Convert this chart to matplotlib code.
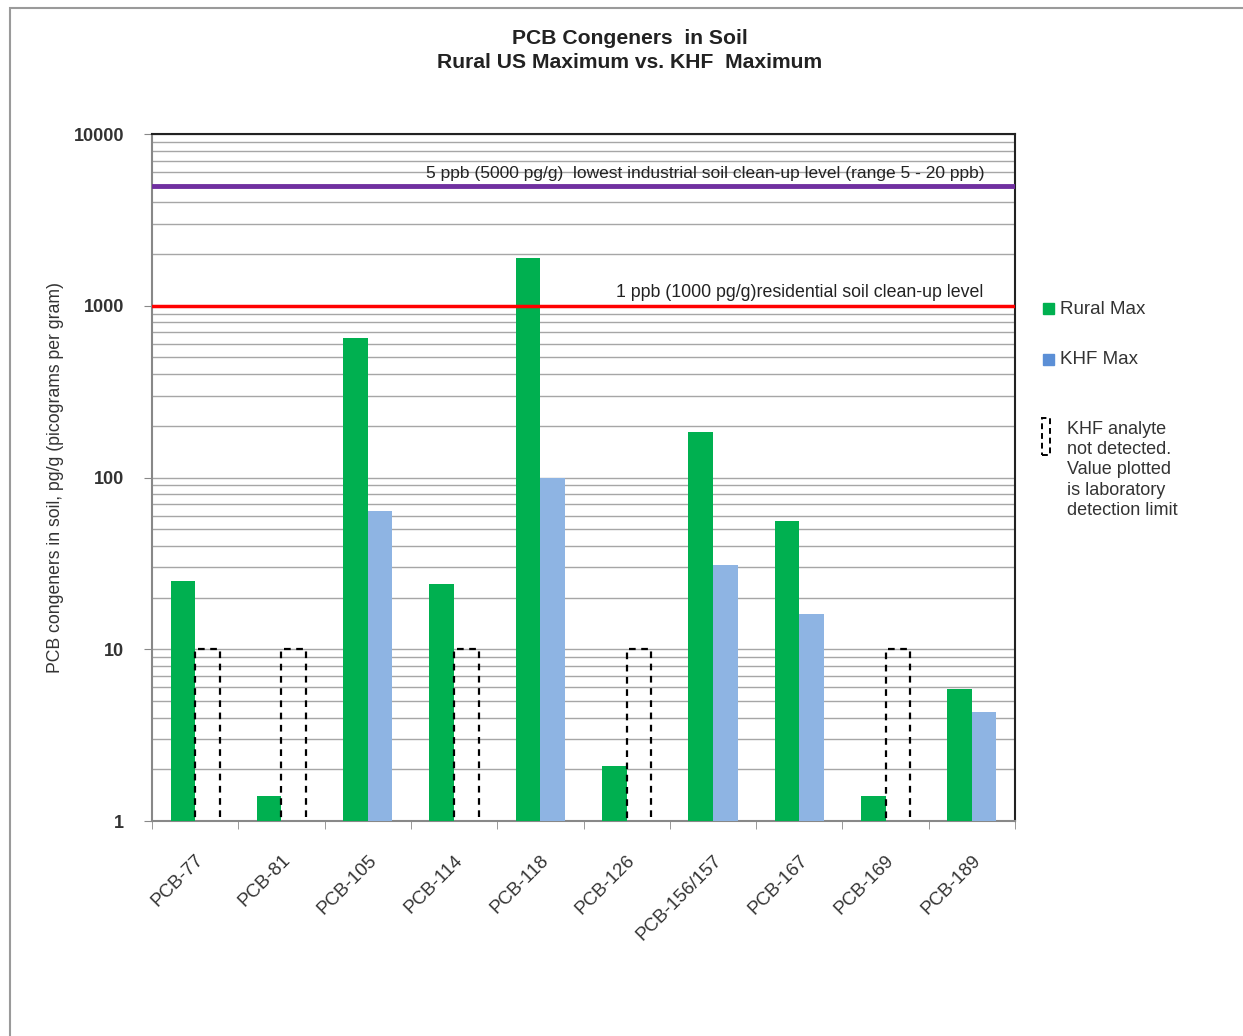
import numpy as np
import matplotlib
matplotlib.use('Agg')
import matplotlib.pyplot as plt
import matplotlib.patches as mpatches
from matplotlib.ticker import LogLocator, NullFormatter, FixedLocator

plt.rcParams['font.family'] = ['Liberation Sans', 'DejaVu Sans']

categories = ['PCB-77', 'PCB-81', 'PCB-105', 'PCB-114', 'PCB-118',
              'PCB-126', 'PCB-156/157', 'PCB-167', 'PCB-169', 'PCB-189']
rural_max = [25, 1.4, 650, 24, 1900, 2.1, 185, 56, 1.4, 5.9]
khf_max = [np.nan, np.nan, 64, np.nan, 100, np.nan, 31, 16, np.nan, 4.3]
khf_detect_limit = [10, 10, np.nan, 10, np.nan, 10, np.nan, np.nan, 10, np.nan]

industrial_level = 5000
residential_level = 1000
y_ticks = [1, 10, 100, 1000, 10000]

green = '#00B050'
blue = '#8EB4E3'
purple = '#7030A0'
red = '#FF0000'

fig = plt.figure(figsize=(12.43, 10.36), dpi=100)

# gray page border around the figure area
fig.patches.append(mpatches.Rectangle((10/1243, -0.01), 1.0, 1 - 8/1036 + 0.01,
                                      transform=fig.transFigure, fill=False,
                                      edgecolor='#9a9a9a', linewidth=1.5))

ax = fig.add_axes([152/1243, 215/1036, 863/1243, 687/1036])
ax.set_yscale('log')
ax.set_ylim(1, 10000)
ax.set_xlim(-0.5, len(categories) - 0.5)

x = np.arange(len(categories))
w = 0.285
rural = np.array(rural_max, dtype=float)
khf = np.array(khf_max, dtype=float)
nd = np.array(khf_detect_limit, dtype=float)

ax.bar(x - w, rural, width=w, align='edge', color=green, zorder=3)
m = ~np.isnan(khf)
ax.bar(x[m], khf[m], width=w, align='edge', color=blue, zorder=3)
m = ~np.isnan(nd)
ax.bar(x[m], nd[m], width=w, align='edge', fill=False, edgecolor='black',
       linestyle=(0, (3, 2.5)), linewidth=1.6, zorder=4)

ax.axhline(industrial_level, color=purple, linewidth=3.5, zorder=5)
ax.axhline(residential_level, color=red, linewidth=2.5, zorder=5)
ax.text(len(categories) - 0.85, industrial_level * 1.06,
        '5 ppb (5000 pg/g)  lowest industrial soil clean-up level (range 5 - 20 ppb)',
        ha='right', va='bottom', fontsize=12.5, color='#222222', zorder=6)
ax.text(len(categories) - 0.87, residential_level * 1.06,
        '1 ppb (1000 pg/g)residential soil clean-up level',
        ha='right', va='bottom', fontsize=12.8, color='#222222', zorder=6)

# grid
ax.yaxis.set_minor_locator(LogLocator(base=10, subs=np.arange(2, 10)))
ax.yaxis.set_minor_formatter(NullFormatter())
ax.grid(True, which='both', axis='y', color='#a6a6a6', linewidth=1.0, zorder=0)
ax.set_axisbelow(True)

ax.set_yticks(y_ticks)
ax.set_yticklabels([str(v) for v in y_ticks], fontsize=13, fontweight='bold',
                   color='#333333')
ax.tick_params(axis='y', which='major', direction='out', length=6, color='#888888', pad=14)
ax.tick_params(axis='y', which='minor', length=0)

ax.set_xticks(x)
ax.set_xticklabels(categories, rotation=45, ha='right', rotation_mode='anchor',
                   fontsize=13.5, color='#333333')
ax.tick_params(axis='x', which='major', length=0, pad=22)
ax.xaxis.set_minor_locator(FixedLocator(np.arange(-0.5, len(categories), 1.0)))
ax.tick_params(axis='x', which='minor', direction='out', length=6, color='#888888')

for side in ['left', 'bottom']:
    ax.spines[side].set_color('#888888')
    ax.spines[side].set_linewidth(1.5)
for side in ['top', 'right']:
    ax.spines[side].set_color('#222222')
    ax.spines[side].set_linewidth(1.5)

ax.set_ylabel('PCB congeners in soil, pg/g (picograms per gram)', fontsize=12.7,
              color='#333333', labelpad=7)

fig.text(630/1243, 1 - 38/1036, 'PCB Congeners  in Soil', ha='center', va='center',
         fontsize=15.2, fontweight='bold', color='#222222')
fig.text(630/1243, 1 - 62/1036, 'Rural US Maximum vs. KHF  Maximum', ha='center',
         va='center', fontsize=15.2, fontweight='bold', color='#222222')

# legend drawn by hand to match the spacing of the original
fig.patches.append(mpatches.Rectangle((1043/1243, 1 - 314/1036), 11/1243, 11/1036,
                                      transform=fig.transFigure, color=green))
fig.text(1060/1243, 1 - 309/1036, 'Rural Max', ha='left', va='center',
         fontsize=13.5, color='#333333')
fig.patches.append(mpatches.Rectangle((1043/1243, 1 - 365/1036), 11/1243, 11/1036,
                                      transform=fig.transFigure, color='#5B8FD6'))
fig.text(1060/1243, 1 - 360/1036, 'KHF Max', ha='left', va='center',
         fontsize=13.5, color='#333333')
fig.patches.append(mpatches.Rectangle((1042/1243, 1 - 455/1036), 8/1243, 37/1036,
                                      transform=fig.transFigure, fill=False,
                                      edgecolor='black', linestyle=(0, (3, 2)),
                                      linewidth=1.4))
fig.text(1067/1243, 1 - 421/1036,
         'KHF analyte\nnot detected.\nValue plotted\nis laboratory\ndetection limit',
         ha='left', va='top', fontsize=13, color='#333333', linespacing=1.25)

fig.savefig('out.png', dpi=100)
